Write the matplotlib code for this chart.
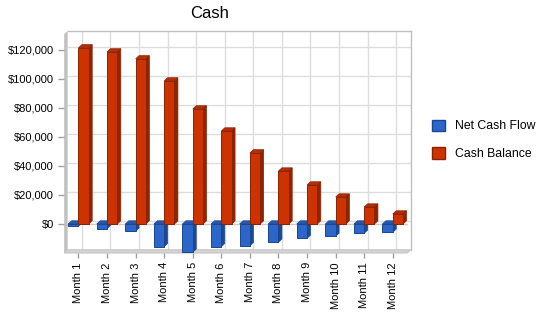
import matplotlib
matplotlib.use("Agg")
import matplotlib.pyplot as plt
from matplotlib.patches import Polygon, Patch

plt.rcParams['font.family'] = ['Liberation Sans', 'DejaVu Sans']

# Data
months = ["Month 1", "Month 2", "Month 3", "Month 4", "Month 5", "Month 6",
          "Month 7", "Month 8", "Month 9", "Month 10", "Month 11", "Month 12"]
net_cash_flow = [-1500, -3200, -5000, -15600, -19500, -15600,
                 -15000, -12600, -9900, -8500, -6400, -5700]
cash_balance = [121400, 118600, 113800, 98600, 79300, 64100,
                49000, 36500, 26900, 18600, 11700, 6900]
y_ticks = [0, 20000, 40000, 60000, 80000, 100000, 120000]
y_labels = ["$0", "$20,000", "$40,000", "$60,000", "$80,000", "$100,000", "$120,000"]
series_names = ["Net Cash Flow", "Cash Balance"]

# Colours
blue = dict(front='#2B66C8', top='#2458B4', side='#1B4A94', edge='#1A4690')
red = dict(front='#CC3300', top='#B52D00', side='#8F2400', edge='#8A2200')

# 3D depth in data units
dx = 0.12
dy = 2200
ymin, ymax = -20000, 133000
xmin, xmax = -0.5, len(months) - 0.5
w = 0.36

fig = plt.figure(figsize=(5.5, 3.18), dpi=100)
ax = fig.add_axes([64.2 / 550, 1 - 253 / 318, (410.5 - 64.2) / 550, (253 - 31) / 318])
ax.set_xlim(xmin, xmax + dx)
ax.set_ylim(ymin, ymax)

# walls
ax.add_patch(Polygon([(xmin, ymin), (xmin, ymax - dy), (xmin + dx, ymax), (xmin + dx, ymin + dy)],
                     closed=True, facecolor='#C0C0C0', edgecolor='none', zorder=0.5, clip_on=False))
ax.add_patch(Polygon([(xmin, ymin), (xmax, ymin), (xmax + dx, ymin + dy), (xmin + dx, ymin + dy)],
                     closed=True, facecolor='#D4D4D4', edgecolor='#C4C4C4', lw=0.8, zorder=0.5, clip_on=False))

# back wall grid
for yt in y_ticks:
    ax.plot([xmin + dx, xmax + dx], [yt + dy, yt + dy], color='#DDDDDD', lw=1, zorder=0.2)
for i in range(len(months)):
    ax.plot([i + dx, i + dx], [ymin + dy, ymax], color='#DDDDDD', lw=1, zorder=0.2)
ax.plot([xmin + dx, xmax + dx], [ymax, ymax], color='#C0C0C0', lw=1, zorder=0.3, clip_on=False)
ax.plot([xmax + dx, xmax + dx], [ymin + dy, ymax], color='#C0C0C0', lw=1, zorder=0.3, clip_on=False)
ax.plot([xmin, xmax], [0, 0], color='#CCCCCC', lw=1, zorder=0.4)


def bar3d(x0, h, c, z):
    x1 = x0 + w
    ax.bar(x0, h, w, align='edge', color=c['front'], edgecolor=c['edge'], lw=0.7, zorder=z + 0.2)
    if h >= 0:
        top = [(x0, h), (x1, h), (x1 + dx, h + dy), (x0 + dx, h + dy)]
    else:
        top = [(x0, 0), (x1, 0), (x1 + dx, dy), (x0 + dx, dy)]
    side = [(x1, min(h, 0)), (x1, max(h, 0)), (x1 + dx, max(h, 0) + dy), (x1 + dx, min(h, 0) + dy)]
    ax.add_patch(Polygon(side, closed=True, facecolor=c['side'], edgecolor=c['edge'], lw=0.5, zorder=z))
    ax.add_patch(Polygon(top, closed=True, facecolor=c['top'], edgecolor=c['edge'], lw=0.5, zorder=z + 0.1))


for i in range(len(months)):
    bar3d(i - w, net_cash_flow[i], blue, 2 + i)
    bar3d(i, cash_balance[i], red, 2.5 + i)

for s in ax.spines.values():
    s.set_visible(False)

ax.set_yticks(y_ticks)
ax.set_yticklabels(y_labels)
ax.set_xticks(range(len(months)))
ax.set_xticklabels(months, rotation=90)
ax.tick_params(axis='y', color='#A0A0A0', length=4.3, width=1, labelsize=8, pad=3)
ax.tick_params(axis='x', color='#A0A0A0', length=3.6, width=1, labelsize=8, pad=3)

fig.text(210 / 550, 1 - 17.5 / 318, "Cash", ha='center', va='baseline', fontsize=12)

handles = [Patch(facecolor=blue['front'], edgecolor=blue['edge'], label=series_names[0]),
           Patch(facecolor=red['front'], edgecolor=red['edge'], label=series_names[1])]
fig.legend(handles=handles, loc='upper left', bbox_to_anchor=(431.5 / 550, 1 - 119.5 / 318),
           frameon=False, fontsize=8.8, borderpad=0, borderaxespad=0,
           handlelength=1.07, handleheight=1.07, handletextpad=0.85, labelspacing=1.2)

fig.savefig("out.png", dpi=100)
